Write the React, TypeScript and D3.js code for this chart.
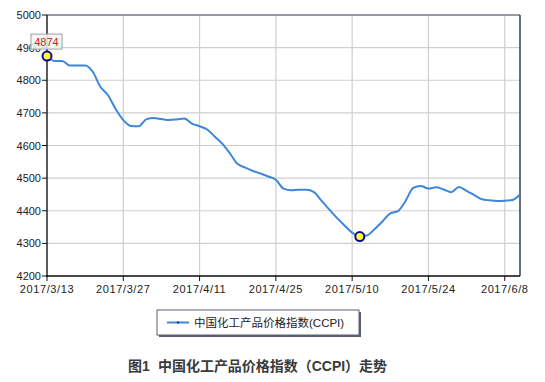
import React from "react";
import * as d3 from "d3";

const values: number[] = [
  4874, 4859, 4859, 4845, 4845, 4845, 4826, 4780, 4754, 4712,
  4678, 4660, 4659, 4680, 4684, 4681, 4678, 4680, 4683, 4667,
  4659, 4649, 4627, 4605, 4575, 4543, 4532, 4522, 4514, 4505,
  4495, 4468, 4463, 4464, 4464, 4457, 4430, 4404, 4378, 4355,
  4333, 4321, 4325, 4345, 4368, 4392, 4399, 4430, 4470, 4476,
  4468, 4472, 4465, 4457, 4473, 4461, 4448, 4435, 4432, 4430,
  4431, 4433, 4450,
];
const xTickLabels: string[] = ["2017/3/13", "2017/3/27", "2017/4/11", "2017/4/25", "2017/5/10", "2017/5/24", "2017/6/8"];
const xTickIndex: number[] = [0, 10, 20, 30, 40, 50, 60];
const yTicks: number[] = [4200, 4300, 4400, 4500, 4600, 4700, 4800, 4900, 5000];
const seriesName = "中国化工产品价格指数(CCPI)";
const titlePrefix = "图1";
const titleText = "中国化工产品价格指数（CCPI）走势";
const markedIndex: number[] = [0, 41];

const W = 545, H = 382;
const L = 47, R = 520, T = 15, B = 276;
const latin = "'Liberation Sans', Arial, sans-serif";
const cjk = "'Liberation Sans', 'Noto Sans CJK SC', sans-serif";

export default function App() {
  const x = d3.scaleLinear().domain([0, values.length - 1]).range([L, R]);
  const y = d3.scaleLinear().domain([4200, 5000]).range([B, T]);
  const line = d3.line<number>().x((_, i) => x(i)).y((d) => y(d)).curve(d3.curveMonotoneX);
  const first = values[0];
  return (
    <svg width={W} height={H} style={{ position: "absolute", left: 0, top: 0, background: "#fff" }}>
      <rect x={0} y={0} width={W} height={H} fill="#fff" />
      {yTicks.map((t) => (
        <line key={"gy" + t} x1={L} x2={R} y1={y(t)} y2={y(t)} stroke="#cfcfcf" strokeWidth={1.2} />
      ))}
      {xTickIndex.map((i) => (
        <line key={"gx" + i} x1={x(i)} x2={x(i)} y1={T} y2={B} stroke="#cfcfcf" strokeWidth={1.2} />
      ))}
      <line x1={L} x2={R} y1={T} y2={T} stroke="#7a8088" strokeWidth={1.5} />
      <line x1={R} x2={R} y1={T} y2={B} stroke="#2c3e5a" strokeWidth={1.5} />
      <line x1={L} x2={L} y1={T} y2={B + 1} stroke="#111" strokeWidth={1.3} />
      <line x1={L - 1} x2={R} y1={B} y2={B} stroke="#111" strokeWidth={1.3} />
      {yTicks.map((t) => (
        <g key={"ty" + t}>
          <line x1={L - 5} x2={L} y1={y(t)} y2={y(t)} stroke="#111" />
          <text x={L - 6} y={y(t) + 4} textAnchor="end" fontSize={11} fontFamily={latin} fill="#222">
            {t}
          </text>
        </g>
      ))}
      {xTickIndex.map((i, k) => (
        <g key={"tx" + i}>
          <line x1={x(i)} x2={x(i)} y1={B} y2={B + 5} stroke="#111" />
          <text x={x(i)} y={B + 17} textAnchor="middle" fontSize={11} fontFamily={latin} fill="#222" letterSpacing={0.6}>
            {xTickLabels[k]}
          </text>
        </g>
      ))}
      <path d={line(values) || ""} fill="none" stroke="#3d87da" strokeWidth={2} />
      {markedIndex.map((i) => (
        <circle key={"m" + i} cx={x(i)} cy={y(values[i])} r={4.5} fill="#ffff33" stroke="#0a0a9a" strokeWidth={2} />
      ))}
      <rect x={x(0) - 16} y={y(first) - 22} width={31} height={15} fill="#f4f4f4" fillOpacity={0.85} stroke="#a0a0a0" />
      <text x={x(0) - 0.5} y={y(first) - 10.5} textAnchor="middle" fontSize={11} fontFamily={latin} fill="#d42020">
        {first}
      </text>
      <rect x={159} y={312} width={202} height={25} fill="#5a6070" />
      <rect x={157} y={310} width={202} height={25} fill="#fff" stroke="#5a6070" />
      <line x1={167} x2={189} y1={322.5} y2={322.5} stroke="#3d87da" strokeWidth={2} />
      <line x1={177} x2={179} y1={322.5} y2={322.5} stroke="#1a3a80" strokeWidth={2} />
      <text x={194} y={327} fontSize={11.5} fontFamily={cjk} fill="#222">
        {seriesName}
      </text>
      <text x={128} y={371} fontSize={14} fontWeight="bold" fontFamily={cjk} fill="#3a3a3a">
        {titlePrefix}
      </text>
      <text x={158} y={371} fontSize={14} fontWeight="bold" fontFamily={cjk} fill="#3a3a3a" textLength={229} lengthAdjust="spacing">
        {titleText}
      </text>
    </svg>
  );
}
